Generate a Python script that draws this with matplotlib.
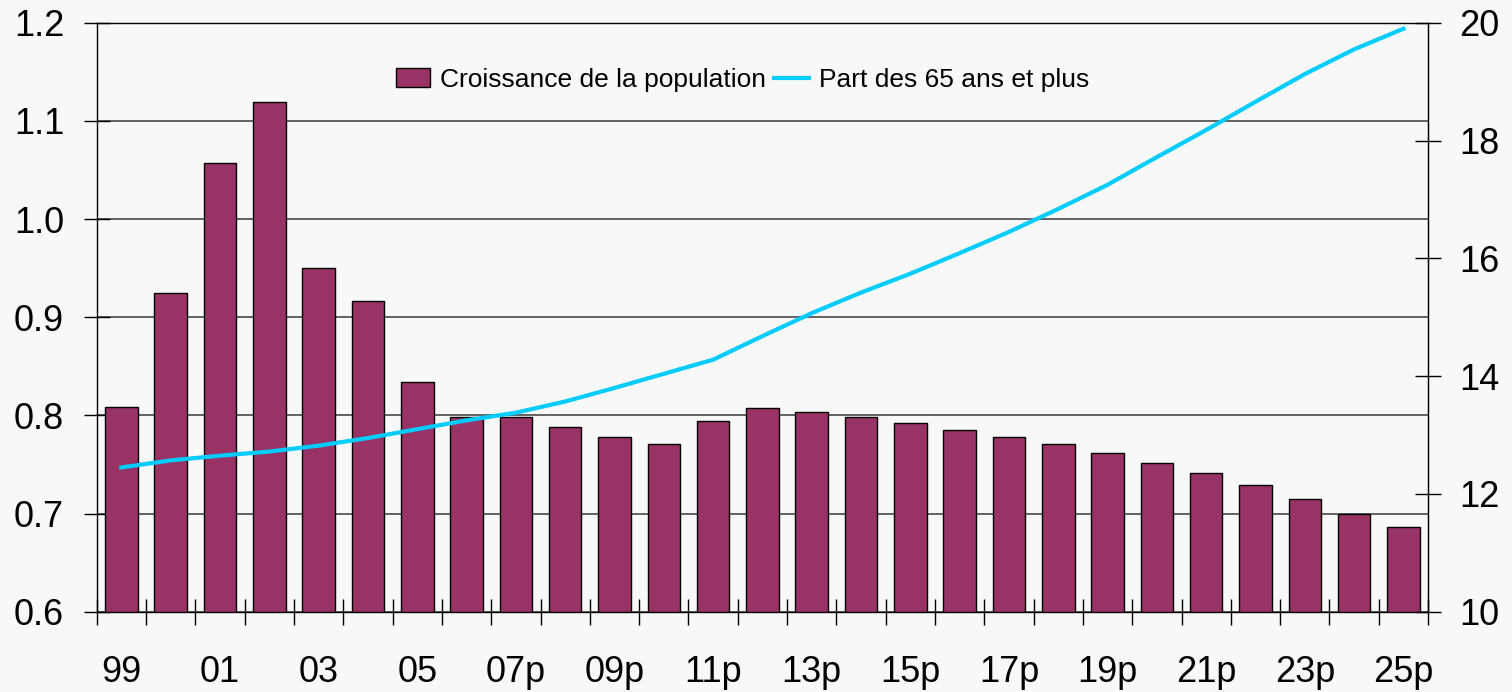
import numpy as np
import matplotlib
matplotlib.use("Agg")
import matplotlib.pyplot as plt
from matplotlib.patches import Patch
from matplotlib.lines import Line2D

plt.rcParams["font.family"] = ["Liberation Sans", "DejaVu Sans"]

# Years 1999 -> 2025 (p = projection)
years = ["99", "00", "01", "02", "03", "04", "05", "06p", "07p", "08p", "09p", "10p",
         "11p", "12p", "13p", "14p", "15p", "16p", "17p", "18p", "19p", "20p", "21p",
         "22p", "23p", "24p", "25p"]
tick_labels = ["99", "01", "03", "05", "07p", "09p", "11p", "13p", "15p", "17p",
               "19p", "21p", "23p", "25p"]

# Croissance de la population (%), left axis
growth = [0.809, 0.925, 1.057, 1.119, 0.950, 0.917, 0.834, 0.798, 0.798, 0.788,
          0.778, 0.771, 0.794, 0.808, 0.804, 0.798, 0.792, 0.785, 0.778, 0.771,
          0.762, 0.752, 0.741, 0.729, 0.715, 0.700, 0.686]

# Part des 65 ans et plus (%), right axis
share65 = [12.45, 12.57, 12.65, 12.72, 12.82, 12.95, 13.10, 13.25, 13.38, 13.57,
           13.80, 14.04, 14.28, 14.68, 15.07, 15.42, 15.74, 16.09, 16.45, 16.84,
           17.25, 17.72, 18.18, 18.66, 19.13, 19.55, 19.90]

bar_color = "#993366"
line_color = "#00CCFF"
bg = "#F8F8F8"

x = np.arange(len(years))

fig = plt.figure(figsize=(15.12, 6.92), dpi=100, facecolor=bg)
ax = fig.add_axes([0.064, 0.116, 0.8805, 0.851], facecolor=bg)

ax.bar(x, growth, width=0.66, color=bar_color, edgecolor="black", linewidth=1.0, zorder=2)
ax.set_xlim(-0.5, len(years) - 0.5)
ax.set_ylim(0.6, 1.2)
ax.set_yticks(np.arange(0.6, 1.21, 0.1))
ax.set_yticklabels([f"{v:.1f}" for v in np.arange(0.6, 1.21, 0.1)])
ax.yaxis.grid(True, color="#3a3a3a", linewidth=1.1)
ax.set_axisbelow(True)

# x ticks at category boundaries, labels under every other bar
ax.set_xticks(np.arange(-0.5, len(years), 1.0))
ax.set_xticklabels([])
ax.set_xticks(x[::2], minor=True)
ax.set_xticklabels(tick_labels, minor=True)
ax.tick_params(axis="x", which="major", direction="inout", length=19, width=1)
ax.tick_params(axis="x", which="minor", length=0, pad=31, labelsize=26)
ax.tick_params(axis="y", direction="inout", length=19, width=1, pad=14, labelsize=26)

for s in ["left", "bottom", "right", "top"]:
    ax.spines[s].set_linewidth(1.0)
    ax.spines[s].set_color("black")

ax2 = ax.twinx()
ax2.plot(x, share65, color=line_color, linewidth=3, zorder=3)
ax2.set_ylim(10, 20)
ax2.set_yticks(np.arange(10, 21, 2))
ax2.tick_params(axis="y", direction="inout", length=19, width=1, pad=13, labelsize=26)
for s in ["left", "bottom", "top"]:
    ax2.spines[s].set_visible(False)

handles = [Patch(facecolor=bar_color, edgecolor="black", linewidth=1.0),
           Line2D([], [], color=line_color, linewidth=3)]
ax2.legend(handles, ["Croissance de la population", "Part des 65 ans et plus"],
           loc="center", bbox_to_anchor=(0.485, 0.903), ncol=2, frameon=False,
           fontsize=19, handlelength=1.3, handleheight=0.7, handletextpad=0.4,
           columnspacing=0.3)

fig.savefig("out.png", dpi=100, facecolor=bg)
